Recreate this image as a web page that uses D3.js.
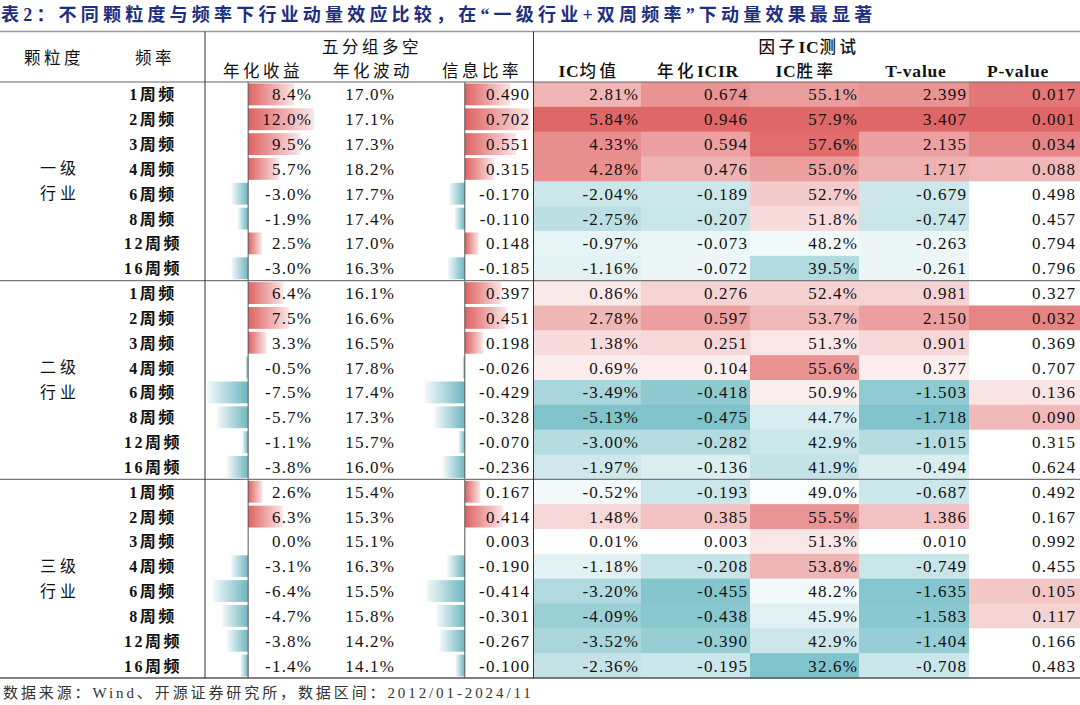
<!DOCTYPE html>
<html>
<head>
<meta charset="utf-8">
<script src="https://cdn.jsdelivr.net/npm/d3@7"></script>
<style>
  body { margin: 0; background: #fff; }
  svg { display: block; }
</style>
</head>
<body>
<div id="chart"></div>
<script>
const width = 1080;
const height = 705;

// ---- data ----
const groups = ["一级", "二级", "三级"];
const freqs = ["1周频", "2周频", "3周频", "4周频", "6周频", "8周频", "12周频", "16周频"];

const annRet = [8.4, 12.0, 9.5, 5.7, -3.0, -1.9, 2.5, -3.0,
                6.4, 7.5, 3.3, -0.5, -7.5, -5.7, -1.1, -3.8,
                2.6, 6.3, 0.0, -3.1, -6.4, -4.7, -3.8, -1.4];
const annVol = [17.0, 17.1, 17.3, 18.2, 17.7, 17.4, 17.0, 16.3,
                16.1, 16.6, 16.5, 17.8, 17.4, 17.3, 15.7, 16.0,
                15.4, 15.3, 15.1, 16.3, 15.5, 15.8, 14.2, 14.1];
const infoRatio = [0.490, 0.702, 0.551, 0.315, -0.170, -0.110, 0.148, -0.185,
                   0.397, 0.451, 0.198, -0.026, -0.429, -0.328, -0.070, -0.236,
                   0.167, 0.414, 0.003, -0.190, -0.414, -0.301, -0.267, -0.100];
const icMean = [2.81, 5.84, 4.33, 4.28, -2.04, -2.75, -0.97, -1.16,
                0.86, 2.78, 1.38, 0.69, -3.49, -5.13, -3.00, -1.97,
                -0.52, 1.48, 0.01, -1.18, -3.20, -4.09, -3.52, -2.36];
const icir = [0.674, 0.946, 0.594, 0.476, -0.189, -0.207, -0.073, -0.072,
              0.276, 0.597, 0.251, 0.104, -0.418, -0.475, -0.282, -0.136,
              -0.193, 0.385, 0.003, -0.208, -0.455, -0.438, -0.390, -0.195];
const icWin = [55.1, 57.9, 57.6, 55.0, 52.7, 51.8, 48.2, 39.5,
               52.4, 53.7, 51.3, 55.6, 50.9, 44.7, 42.9, 41.9,
               49.0, 55.5, 51.3, 53.8, 48.2, 45.9, 42.9, 32.6];
const tValue = [2.399, 3.407, 2.135, 1.717, -0.679, -0.747, -0.263, -0.261,
                0.981, 2.150, 0.901, 0.377, -1.503, -1.718, -1.015, -0.494,
                -0.687, 1.386, 0.010, -0.749, -1.635, -1.583, -1.404, -0.708];
const pValue = [0.017, 0.001, 0.034, 0.088, 0.498, 0.457, 0.794, 0.796,
                0.327, 0.032, 0.369, 0.707, 0.136, 0.090, 0.315, 0.624,
                0.492, 0.167, 0.992, 0.455, 0.105, 0.117, 0.166, 0.483];

const title = "表2：不同颗粒度与频率下行业动量效应比较，在“一级行业+双周频率”下动量效果最显著";
const source = "数据来源：Wind、开源证券研究所，数据区间：2012/01-2024/11";

// ---- layout ----
const serif = "'Liberation Serif', 'Times New Roman', 'Noto Sans CJK SC', serif";
const cjk = "'Liberation Serif', 'Noto Sans CJK SC', sans-serif";
const red = "#e06767";
const teal = "#80c3cb";
const numSize = 17, numLs = 1.2;

const tableTop = 31.5, headBottom = 82, tableBottom = 678;
const nRows = groups.length * freqs.length;

const svg = d3.select("#chart").append("svg")
    .attr("width", width)
    .attr("height", height)
    .attr("viewBox", `0 0 ${width} ${height}`);

const defs = svg.append("defs");
const gPos = defs.append("linearGradient").attr("id", "barPos");
gPos.append("stop").attr("offset", "0%").attr("stop-color", "#df6262");
gPos.append("stop").attr("offset", "100%").attr("stop-color", "#fbe6e6");
const gNeg = defs.append("linearGradient").attr("id", "barNeg");
gNeg.append("stop").attr("offset", "0%").attr("stop-color", "#f2f9fa");
gNeg.append("stop").attr("offset", "100%").attr("stop-color", "#6db6c0");

const y = d3.scaleBand().domain(d3.range(nRows)).range([headBottom, tableBottom]);
const rh = y.bandwidth();

function numText(sel, right) {
  sel.attr("x", right + numLs).attr("y", (d, i) => y(i) + rh / 2 + 6)
     .attr("text-anchor", "end")
     .attr("font-family", serif).attr("font-size", numSize)
     .attr("letter-spacing", numLs).attr("fill", "#111");
}

// title
svg.append("text")
    .attr("x", 1).attr("y", 21)
    .attr("font-family", cjk).attr("font-size", 18).attr("font-weight", "bold")
    .attr("letter-spacing", 4.2)
    .attr("fill", "#1e2f80")
    .text(title);

// ---- heatmap columns ----
const heatCols = [
  {vals: icMean, x0: 534, x1: 641, right: 638, fmt: v => v.toFixed(2) + "%",
   color: d3.scaleLinear().domain([d3.min(icMean), 0, d3.max(icMean)]).range([teal, "#fff", red])},
  {vals: icir, x0: 641, x1: 750, right: 747, fmt: v => v.toFixed(3),
   color: d3.scaleLinear().domain([d3.min(icir), 0, d3.max(icir)]).range([teal, "#fff", red])},
  {vals: icWin, x0: 750, x1: 859, right: 857, fmt: v => v.toFixed(1) + "%",
   color: d3.scaleLinear().domain([d3.min(icWin), 50, d3.max(icWin)]).range([teal, "#fff", red])},
  {vals: tValue, x0: 859, x1: 969, right: 966, fmt: v => v.toFixed(3),
   color: d3.scaleLinear().domain([d3.min(tValue), 0, d3.max(tValue)]).range([teal, "#fff", red])},
  {vals: pValue, x0: 969, x1: 1080, right: 1075, fmt: v => v.toFixed(3),
   color: d3.scaleLinear().domain([d3.min(pValue), 0.165]).range([red, "#fff"]).clamp(true)}
];

heatCols.forEach(col => {
  const g = svg.append("g");
  g.selectAll("rect").data(col.vals).join("rect")
      .attr("x", col.x0).attr("width", col.x1 - col.x0)
      .attr("y", (d, i) => y(i)).attr("height", rh + 0.5)
      .attr("fill", d => col.color(d));
  g.selectAll("text").data(col.vals).join("text")
      .call(numText, col.right)
      .text(d => col.fmt(d));
});

// ---- data bar columns ----
const barCols = [
  {vals: annRet, scale: d3.scaleLinear().domain(d3.extent(annRet)).range([207, 314]),
   right: 311, fmt: v => v.toFixed(1) + "%"},
  {vals: infoRatio, scale: d3.scaleLinear().domain(d3.extent(infoRatio)).range([425, 530]),
   right: 529, fmt: v => v.toFixed(3)}
];

barCols.forEach(col => {
  const g = svg.append("g");
  const x0 = col.scale(0);
  g.selectAll("rect").data(col.vals).join("rect")
      .attr("x", d => d >= 0 ? x0 : col.scale(d))
      .attr("width", d => Math.abs(col.scale(d) - x0))
      .attr("y", (d, i) => y(i) + 1.5).attr("height", rh - 3)
      .attr("fill", d => d >= 0 ? "url(#barPos)" : "url(#barNeg)");
  g.selectAll("text").data(col.vals).join("text")
      .call(numText, col.right)
      .text(d => col.fmt(d));
  g.append("line")
      .attr("x1", x0).attr("x2", x0)
      .attr("y1", headBottom).attr("y2", tableBottom)
      .attr("stroke", "#555").attr("stroke-width", 1);
});

// 年化波动 plain text
svg.append("g").selectAll("text").data(annVol).join("text")
    .call(numText, 394)
    .text(d => d.toFixed(1) + "%");

// frequency labels
svg.append("g").selectAll("text").data(d3.range(nRows)).join("text")
    .attr("x", 153).attr("y", i => y(i) + rh / 2 + 6)
    .attr("text-anchor", "middle")
    .attr("font-family", cjk).attr("font-size", 16).attr("font-weight", "bold")
    .attr("letter-spacing", 2.5)
    .attr("fill", "#111")
    .text(i => freqs[i % freqs.length]);

// group labels
groups.forEach((gname, gi) => {
  const mid = (y(gi * 8) + y(gi * 8 + 7) + rh) / 2;
  [gname, "行业"].forEach((t, k) => {
    svg.append("text")
        .attr("x", 60).attr("y", mid - 7 + k * 25)
        .attr("text-anchor", "middle")
        .attr("font-family", cjk).attr("font-size", 16).attr("letter-spacing", 4)
        .attr("fill", "#111").text(t);
  });
});

// headers: latin runs bold where flagged, CJK normal
const headers = [
  {t: "颗粒度", x: 54, y: 64, b: false},
  {t: "频率", x: 155, y: 64, b: false},
  {t: "五分组多空", x: 372, y: 53, b: false},
  {t: "年化收益", x: 263, y: 77, b: false},
  {t: "年化波动", x: 373, y: 77, b: false},
  {t: "信息比率", x: 482, y: 77, b: false},
  {t: "因子IC测试", x: 809, y: 53, b: true},
  {t: "IC均值", x: 589, y: 77, b: true},
  {t: "年化ICIR", x: 698, y: 77, b: true},
  {t: "IC胜率", x: 806, y: 77, b: true},
  {t: "T-value", x: 916, y: 77, b: true},
  {t: "P-value", x: 1018, y: 77, b: true}
];
const hg = svg.append("g").selectAll("text").data(headers).join("text")
    .attr("x", d => d.x).attr("y", d => d.y)
    .attr("text-anchor", "middle")
    .attr("font-family", cjk).attr("font-size", 16.5)
    .attr("fill", "#111");
hg.each(function(d) {
  const runs = d.t.match(/[\x00-\x7f]+|[^\x00-\x7f]+/g);
  const el = d3.select(this);
  runs.forEach(r => {
    const latin = /^[\x00-\x7f]+$/.test(r);
    el.append("tspan")
      .attr("font-weight", latin && d.b ? "bold" : (d.b ? 500 : "normal"))
      .attr("font-size", latin ? 17.5 : 16.5)
      .attr("letter-spacing", latin ? 0.8 : 3.5)
      .text(r);
  });
});

// rules
const hlines = [
  {y: tableTop, c: "#999", w: 1.5},
  {y: headBottom, c: "#666", w: 1},
  {y: y(8), c: "#777", w: 1.2},
  {y: y(16), c: "#777", w: 1.2},
  {y: tableBottom, c: "#555", w: 1.5}
];
svg.append("g").selectAll("line").data(hlines).join("line")
    .attr("x1", 0).attr("x2", width)
    .attr("y1", d => d.y).attr("y2", d => d.y)
    .attr("stroke", d => d.c).attr("stroke-width", d => d.w);

svg.append("g").selectAll("line").data([205, 533.5]).join("line")
    .attr("x1", d => d).attr("x2", d => d)
    .attr("y1", tableTop).attr("y2", tableBottom)
    .attr("stroke", "#333").attr("stroke-width", 1);

// source
svg.append("text")
    .attr("x", 3).attr("y", 698)
    .attr("font-family", cjk).attr("font-size", 15).attr("letter-spacing", 2.9)
    .attr("fill", "#333")
    .text(source);
</script>
</body>
</html>
